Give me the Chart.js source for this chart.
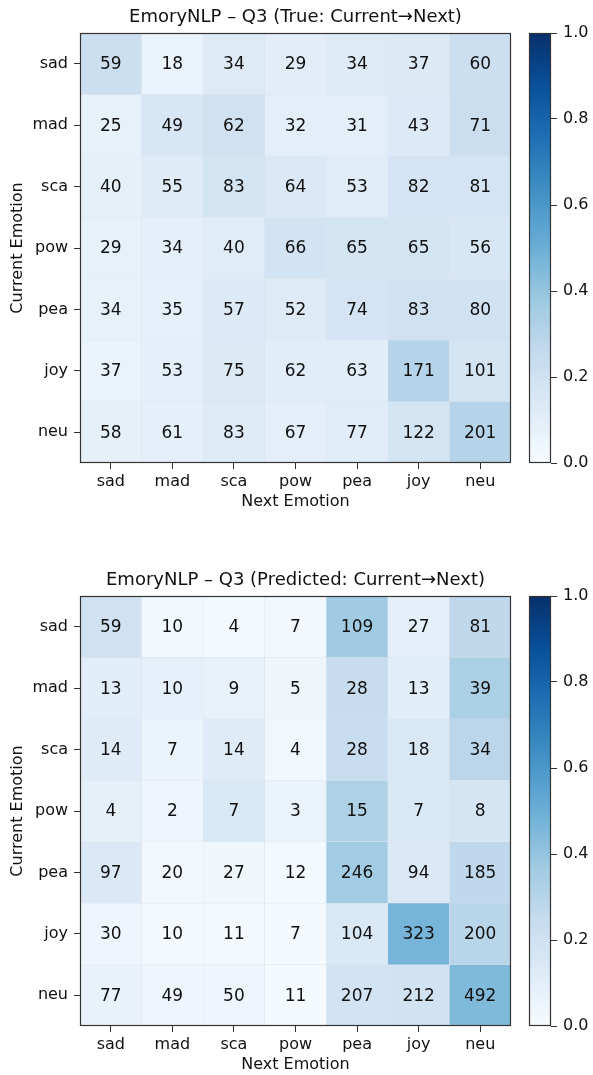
<!DOCTYPE html>
<html>
<head>
<meta charset="utf-8">
<script src="https://cdn.jsdelivr.net/npm/chart.js@4.4.0/dist/chart.umd.min.js"></script>
<style>
  html, body { margin: 0; padding: 0; background: #fff; overflow: hidden; }
  canvas { position: absolute; }
</style>
</head>
<body>
<canvas id="heatTrue" width="591" height="512" style="left:0;top:0"></canvas>
<canvas id="barTrue" width="73" height="512" style="left:520px;top:0"></canvas>
<canvas id="heatPred" width="591" height="512" style="left:0;top:563px"></canvas>
<canvas id="barPred" width="73" height="512" style="left:520px;top:563px"></canvas>
<script>
// emotion labels (rows = current, columns = next)
const emotions = ['sad', 'mad', 'sca', 'pow', 'pea', 'joy', 'neu'];

// counts, true transitions
const trueCounts = [
  [59, 18, 34, 29, 34, 37, 60],
  [25, 49, 62, 32, 31, 43, 71],
  [40, 55, 83, 64, 53, 82, 81],
  [29, 34, 40, 66, 65, 65, 56],
  [34, 35, 57, 52, 74, 83, 80],
  [37, 53, 75, 62, 63, 171, 101],
  [58, 61, 83, 67, 77, 122, 201]
];

// counts, predicted transitions
const predCounts = [
  [59, 10, 4, 7, 109, 27, 81],
  [13, 10, 9, 5, 28, 13, 39],
  [14, 7, 14, 4, 28, 18, 34],
  [4, 2, 7, 3, 15, 7, 8],
  [97, 20, 27, 12, 246, 94, 185],
  [30, 10, 11, 7, 104, 323, 200],
  [77, 49, 50, 11, 207, 212, 492]
];

const colorbarTicks = [0, 0.2, 0.4, 0.6, 0.8, 1.0];

// matplotlib "Blues"
const bluesStops = ['#f7fbff', '#deebf7', '#c6dbef', '#9ecae1', '#6baed6',
                    '#4292c6', '#2171b5', '#08519c', '#08306b'];

function hexRgb(h) {
  return [parseInt(h.slice(1, 3), 16), parseInt(h.slice(3, 5), 16), parseInt(h.slice(5, 7), 16)];
}

function blues(t) {
  t = Math.max(0, Math.min(1, t));
  const pos = t * (bluesStops.length - 1);
  const i = Math.min(Math.floor(pos), bluesStops.length - 2);
  const f = pos - i;
  const a = hexRgb(bluesStops[i]), b = hexRgb(bluesStops[i + 1]);
  const c = a.map((v, k) => Math.round(v + (b[k] - v) * f));
  return 'rgb(' + c.join(',') + ')';
}

const FONT = '"DejaVu Sans", sans-serif';
const TEXT = '#111';
const SPINE = '#333';

// box round the plot area
const frame = {
  id: 'frame',
  afterDraw(chart) {
    const a = chart.chartArea;
    const ctx = chart.ctx;
    ctx.save();
    ctx.strokeStyle = SPINE;
    ctx.lineWidth = 1.2;
    ctx.strokeRect(Math.round(a.left) + 0.5, Math.round(a.top) + 0.5,
                   Math.round(a.right - a.left) - 1, Math.round(a.bottom - a.top) - 1);
    ctx.restore();
  }
};

// count in the middle of each cell
const cellText = {
  id: 'cellText',
  afterDatasetsDraw(chart) {
    const ctx = chart.ctx;
    ctx.save();
    ctx.font = '17px ' + FONT;
    ctx.fillStyle = TEXT;
    ctx.textAlign = 'center';
    ctx.textBaseline = 'middle';
    chart.data.datasets.forEach((ds, r) => {
      chart.getDatasetMeta(r).data.forEach((bar, c) => {
        ctx.fillText(String(ds.counts[c]), bar.x, (bar.y + bar.base) / 2 + 1);
      });
    });
    ctx.restore();
  }
};

function heatmap(id, title, counts) {
  const rowSums = counts.map(row => row.reduce((s, v) => s + v, 0));
  const datasets = counts.map((row, r) => ({
    label: emotions[r],
    counts: row,
    data: row.map(() => [r, r + 1]),
    backgroundColor: row.map(v => blues(v / rowSums[r])),
    borderColor: 'rgba(190,200,215,0.35)',
    borderWidth: 0.5,
    borderSkipped: false,
    grouped: false,
    barPercentage: 1,
    categoryPercentage: 1
  }));

  new Chart(document.getElementById(id), {
    type: 'bar',
    data: { labels: emotions, datasets: datasets },
    options: {
      responsive: false,
      animation: false,
      layout: { padding: { left: 0, right: 80, top: 0, bottom: 0 } },
      plugins: {
        legend: { display: false },
        tooltip: { enabled: false },
        title: {
          display: true,
          fullSize: false,
          text: title,
          color: TEXT,
          font: { family: FONT, size: 18, weight: 'normal' },
          padding: { top: 7, bottom: 4.4 }
        }
      },
      scales: {
        x: {
          grid: { offset: false, drawOnChartArea: false, tickLength: 6, color: SPINE },
          border: { display: false },
          ticks: { color: TEXT, font: { family: FONT, size: 16 }, padding: 3, maxRotation: 0 },
          title: {
            display: true, text: 'Next Emotion', color: TEXT,
            font: { family: FONT, size: 16 }, padding: { top: 2, bottom: 1 }
          },
          afterFit: s => { s.height = 49; }
        },
        y: {
          type: 'linear',
          reverse: true,
          min: 0,
          max: emotions.length,
          afterBuildTicks: s => { s.ticks = emotions.map((e, i) => ({ value: i + 0.5 })); },
          grid: { drawOnChartArea: false, tickLength: 6, color: SPINE },
          border: { display: false },
          ticks: {
            color: TEXT, font: { family: FONT, size: 16 }, padding: 6, autoSkip: false,
            callback: (v, i) => emotions[i]
          },
          title: {
            display: true, text: 'Current Emotion', color: TEXT,
            font: { family: FONT, size: 16 }, padding: { top: 8, bottom: 0 }
          },
          afterFit: s => { s.width = 80; }
        }
      }
    },
    plugins: [cellText, frame]
  });
}

function colorbar(id) {
  new Chart(document.getElementById(id), {
    type: 'bar',
    data: {
      labels: [''],
      datasets: [{
        data: [[0, 1]],
        backgroundColor: c => {
          const a = c.chart.chartArea;
          if (!a) return bluesStops[0];
          const g = c.chart.ctx.createLinearGradient(0, a.bottom, 0, a.top);
          bluesStops.forEach((col, i) => g.addColorStop(i / (bluesStops.length - 1), col));
          return g;
        },
        borderWidth: 0,
        barPercentage: 1,
        categoryPercentage: 1
      }]
    },
    options: {
      responsive: false,
      animation: false,
      layout: { padding: { left: 9, right: 0, top: 33, bottom: 49 } },
      plugins: { legend: { display: false }, tooltip: { enabled: false } },
      scales: {
        x: { display: false },
        y: {
          position: 'right',
          min: 0,
          max: 1,
          afterBuildTicks: s => { s.ticks = colorbarTicks.map(v => ({ value: v })); },
          grid: { drawOnChartArea: false, tickLength: 6, color: SPINE },
          border: { display: false },
          ticks: {
            color: TEXT, font: { family: FONT, size: 16 }, padding: 6,
            callback: v => Number(v).toFixed(1)
          },
          afterFit: s => { s.width = 42; }
        }
      }
    },
    plugins: [frame]
  });
}

heatmap('heatTrue', 'EmoryNLP \u2013 Q3 (True: Current\u2192Next)', trueCounts);
colorbar('barTrue');
heatmap('heatPred', 'EmoryNLP \u2013 Q3 (Predicted: Current\u2192Next)', predCounts);
colorbar('barPred');
</script>
</body>
</html>
